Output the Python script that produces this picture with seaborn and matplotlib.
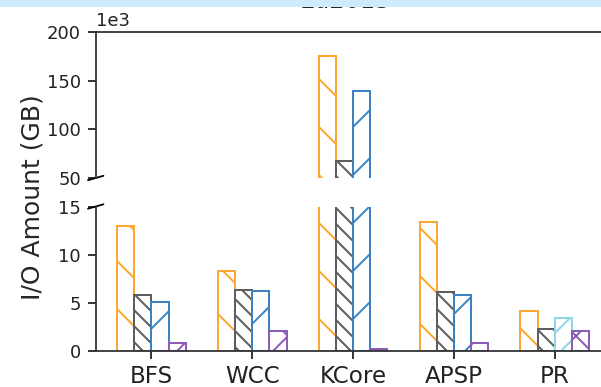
import numpy as np
import pandas as pd
import matplotlib
matplotlib.use("Agg")
import matplotlib.pyplot as plt
from matplotlib.patches import Rectangle
import seaborn as sns

# I/O volume per algorithm (GB)
categories = ["BFS", "WCC", "KCore", "APSP", "PR"]
systems = ["A", "B", "C", "D"]
io_a = [13.0, 8.25, 175000.0, 13.35, 4.1]
io_b = [5.8, 6.35, 67000.0, 6.1, 2.2]
io_c = [5.05, 6.2, 139500.0, 5.8, 3.35]
io_d = [0.8, 2.0, 0.15, 0.8, 2.05]

colors = ["#FDA633", "#5E5E5E", "#3B82C4", "#8B5DB8"]
hatches = ["\\", "\\\\\\", "/", "x"]
# PR uses a variant of system C, drawn in a lighter blue
pr_c_color = "#8ED6E8"
pr_c_hatch = "//"

df = pd.DataFrame({
    "category": categories * 4,
    "system": np.repeat(systems, len(categories)),
    "value": io_a + io_b + io_c + io_d,
})

DPI = 144
W, H = 601, 387
sns.set_style("ticks")
plt.rcParams["font.family"] = ["DejaVu Sans"]
plt.rcParams["hatch.linewidth"] = 1.0

fig = plt.figure(figsize=(W / DPI, H / DPI), dpi=DPI)

left = 95.7 / W
width = 515 / W
ax_top = fig.add_axes([left, 1 - 178 / H, width, (178 - 32) / H])
ax_bot = fig.add_axes([left, 1 - 350.5 / H, width, (350.5 - 206.5) / H])

for ax in (ax_top, ax_bot):
    sns.barplot(data=df, x="category", y="value", hue="system",
                hue_order=systems, palette=colors, width=0.68,
                errorbar=None, legend=False, ax=ax)
    for i, cont in enumerate(ax.containers):
        for j, bar in enumerate(cont.patches):
            c, h = colors[i], hatches[i]
            if i == 2 and categories[j] == "PR":
                c, h = pr_c_color, pr_c_hatch
            bar.set_facecolor("none")
            bar.set_edgecolor(c)
            bar.set_hatch(h)
            bar.set_linewidth(1.0)
    ax.set_xlim(-0.553, 4.556)
    ax.set_xlabel("")
    ax.set_ylabel("")
    for s in ("top", "right", "bottom", "left"):
        ax.spines[s].set_color("#333333")
        ax.spines[s].set_linewidth(0.9)
    ax.tick_params(colors="#222222", width=0.9, length=3.8)

# upper panel: the large KCore values
ax_top.set_ylim(50000, 200000)
ax_top.set_yticks([50000, 100000, 150000, 200000])
ax_top.ticklabel_format(axis="y", style="sci", scilimits=(3, 3))
ax_top.yaxis.get_offset_text().set_fontsize(9)
ax_top.spines["bottom"].set_visible(False)
ax_top.tick_params(axis="x", which="both", bottom=False, labelbottom=False)
ax_top.tick_params(axis="y", labelsize=9)

# lower panel
ax_bot.set_ylim(0, 15)
ax_bot.set_yticks([0, 5, 10, 15])
ax_bot.spines["top"].set_visible(False)
ax_bot.tick_params(axis="y", labelsize=9)
ax_bot.tick_params(axis="x", labelsize=11.5)

# break marks on the left spine
d = 0.015
kw = dict(color="k", clip_on=False, linewidth=0.9)
ax_top.plot((-d, d), (-d, d), transform=ax_top.transAxes, **kw)
ax_bot.plot((-d, d), (1 - d * 146 / 144, 1 + d * 146 / 144),
            transform=ax_bot.transAxes, **kw)

fig.text(33 / W, 1 - 197 / H, "I/O Amount (GB)", rotation=90,
         ha="center", va="center", fontsize=12.5)
fig.text(345 / W, 1 - 7.5 / H, "Eu2015", ha="center", va="baseline",
         fontsize=12)

# header strip along the top edge
fig.add_artist(Rectangle((0, 1 - 7 / H), 1, 7 / H, transform=fig.transFigure,
                         facecolor="#CDEBFA", edgecolor="none", zorder=10))

fig.savefig("out.png", dpi=DPI)
